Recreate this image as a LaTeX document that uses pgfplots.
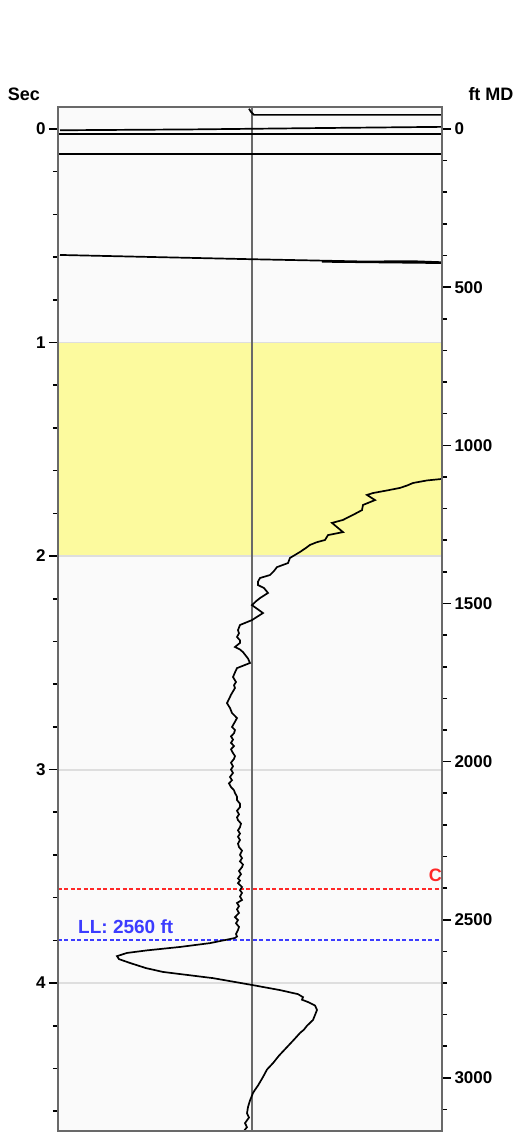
\documentclass[border=0pt]{standalone}
\usepackage{pgfplots}
\pgfplotsset{compat=1.18}
\usepackage{fontspec}
\setmainfont{Liberation Sans}

\definecolor{bgc}{RGB}{250,250,250}
\definecolor{band}{RGB}{252,250,158}
\definecolor{frame}{RGB}{105,105,105}
\definecolor{ruleg}{RGB}{222,222,222}
\definecolor{redl}{RGB}{255,40,40}
\definecolor{bluel}{RGB}{60,60,255}

\begin{document}
\begin{tikzpicture}
\pgfplotsset{
  track/.style={
    scale only axis, width=384pt, height=1024pt,
    xmin=-194, xmax=190, y dir=reverse,
    axis line style={frame, line width=2.4pt},
    tick align=outside,
    major tick length=9pt, minor tick length=5pt,
    tick style={black, line width=1.6pt},
    yticklabel style={font=\fontsize{17}{17}\selectfont\bfseries},
    /pgf/number format/assume math mode=true,
    /pgf/number format/1000 sep={},
    scaled y ticks=false,
  }
}
% left axis: two-way time
\begin{axis}[track,
  ymin=-0.103, ymax=4.693,
  axis background/.style={fill=bgc},
  axis on top,
  xtick=\empty,
  ytick pos=left,
  ytick={0,1,2,3,4},
  minor ytick={0.2,0.4,0.6,0.8,1.2,1.4,1.6,1.8,2.2,2.4,2.6,2.8,3.2,3.4,3.6,3.8,4.2,4.4,4.6},
]
% zone 1-2 s
\addplot[fill=band, draw=none] coordinates {(-194,1) (190,1) (190,2) (-194,2) (-194,1)};
\addplot[ruleg, line width=1.5pt] coordinates {(-194,1) (190,1)};
\addplot[ruleg, line width=1.5pt] coordinates {(-194,2) (190,2)};
\addplot[ruleg, line width=2pt] coordinates {(-194,3) (190,3)};
\addplot[ruleg, line width=2pt] coordinates {(-194,4) (190,4)};

% markers
\addplot[redl, line width=1.8pt, dash pattern=on 4pt off 2.5pt] coordinates {(-194,3.56) (190,3.56)};
\addplot[bluel, line width=2pt, dash pattern=on 4pt off 2.5pt] coordinates {(-194,3.80) (190,3.80)};

% centre line
\addplot[frame, line width=2.4pt] coordinates {(0,-0.103) (0,4.693)};

% wrapped trace near the top
\addplot[black, line width=1.7pt] coordinates {(-3,-0.095) (-1,-0.080) (2,-0.066) (190,-0.066)};
\addplot[black, line width=1.7pt] coordinates {(-192,0.006) (-60,0.002) (60,-0.004) (190,-0.010)};
\addplot[black, line width=1.7pt] coordinates {(-194,0.023) (190,0.023)};
\addplot[black, line width=1.7pt] coordinates {(-194,0.117) (190,0.117)};
\addplot[black, line width=1.7pt] coordinates {(-192,0.590) (0,0.610) (190,0.628) (70,0.622) (160,0.619) (190,0.624)};

% main trace
\addplot[black, line width=1.7pt] coordinates {
(190,1.639) (175,1.646) (161,1.658) (155,1.670) (148,1.681) (135,1.693) (121,1.705) (115,1.714) (123,1.738)
(111,1.761) (110,1.785) (102,1.805) (91,1.831) (80,1.845) (91,1.888) (76,1.902)
(73,1.925) (65,1.935) (58,1.948) (54,1.962) (48,1.981) (38,2.009) (36,2.033) (25,2.052)
(22,2.070) (18,2.089) (8,2.103) (6,2.120) (6,2.136) (12,2.150) (16,2.173) (8,2.197) (4,2.212) (0,2.230)
(11,2.267) (0,2.300) (-12,2.323) (-14,2.347) (-13,2.362) (-15,2.379) (-12,2.395) (-12,2.407)
(-17,2.426) (-12,2.438) (-9,2.450) (-4,2.480) (-2,2.501) (-15,2.525) (-17,2.545) (-19,2.567) (-16,2.590)
(-18,2.605) (-17,2.618) (-21,2.650) (-23,2.670) (-25,2.689) (-22,2.712) (-20,2.735) (-15,2.759) (-20,2.801)
(-17,2.815) (-18,2.830) (-21,2.845) (-19,2.860) (-21,2.875) (-18,2.890) (-21,2.905) (-19,2.923) (-17,2.937) (-18,2.950) (-21,2.968) (-19,2.985)
(-21,3.000) (-19,3.016) (-22,3.035) (-20,3.050) (-23,3.065) (-21,3.082) (-18,3.097) (-17,3.110) (-15,3.127) (-15,3.143) (-12,3.160) (-12,3.176)
(-15,3.193) (-13,3.210) (-15,3.224) (-14,3.237) (-11,3.253) (-12,3.270) (-14,3.285) (-12,3.300) (-14,3.315) (-12,3.330) (-14,3.347) (-13,3.363)
(-10,3.380) (-12,3.400) (-10,3.415) (-12,3.430) (-9,3.445) (-10,3.457) (-13,3.475) (-11,3.490) (-14,3.510) (-12,3.520) (-14,3.532) (-10,3.550)
(-12,3.565) (-10,3.578) (-12,3.595) (-10,3.611) (-15,3.625) (-13,3.640) (-15,3.655) (-13,3.672) (-17,3.691) (-14,3.705) (-16,3.720) (-13,3.737)
(-14,3.752) (-16,3.770) (-15,3.782) (-17,3.789) (-42,3.813) (-72,3.831) (-105,3.847) (-125,3.859) (-135,3.874) (-133,3.888)
(-122,3.906) (-106,3.930) (-89,3.948) (-39,3.977) (0,4.009) (28,4.033) (46,4.052) (51,4.066) (50,4.078)
(56,4.089) (63,4.105) (65,4.126) (63,4.150) (61,4.173) (55,4.200) (52,4.218) (48,4.234) (42,4.265) (37,4.290) (35,4.300) (27,4.340) (21,4.375)
(15,4.405) (11,4.440) (6,4.480) (3,4.500) (1,4.515) (-2,4.550) (-4,4.581) (-5,4.610) (-3,4.630) (-7,4.656) (-5,4.675) (-9,4.698)
};

\node[bluel, font=\fontsize{19}{19}\selectfont\bfseries, anchor=base west, inner sep=0pt]
  at (axis cs:-174,3.77) {LL: 2560 ft};
\node[redl, font=\fontsize{18}{18}\selectfont\bfseries, anchor=base east, inner sep=0pt]
  at (axis cs:190,3.525) {C};

\coordinate (TL) at (axis cs:-194,-0.103);
\coordinate (TR) at (axis cs:190,-0.103);
\coordinate (BR) at (axis cs:190,4.693);
\end{axis}

% right axis: measured depth
\begin{axis}[track,
  ymin=-69.6, ymax=3168,
  axis y line*=right,
  hide x axis,
  ytick={0,500,1000,1500,2000,2500,3000},
  minor ytick={100,200,300,400,600,700,800,900,1100,1200,1300,1400,1600,1700,1800,1900,2100,2200,2300,2400,2600,2700,2800,2900,3100},
]
\end{axis}

\node[font=\fontsize{18}{18}\selectfont\bfseries] at ([shift={(-34pt,13pt)}]TL) {Sec};
\node[font=\fontsize{18}{18}\selectfont\bfseries] at ([shift={(49pt,13pt)}]TR) {ft MD};

\pgfresetboundingbox
\path[use as bounding box] ([shift={(-58pt,107pt)}]TL) rectangle ([shift={(75pt,-1pt)}]BR);
\end{tikzpicture}
\end{document}
